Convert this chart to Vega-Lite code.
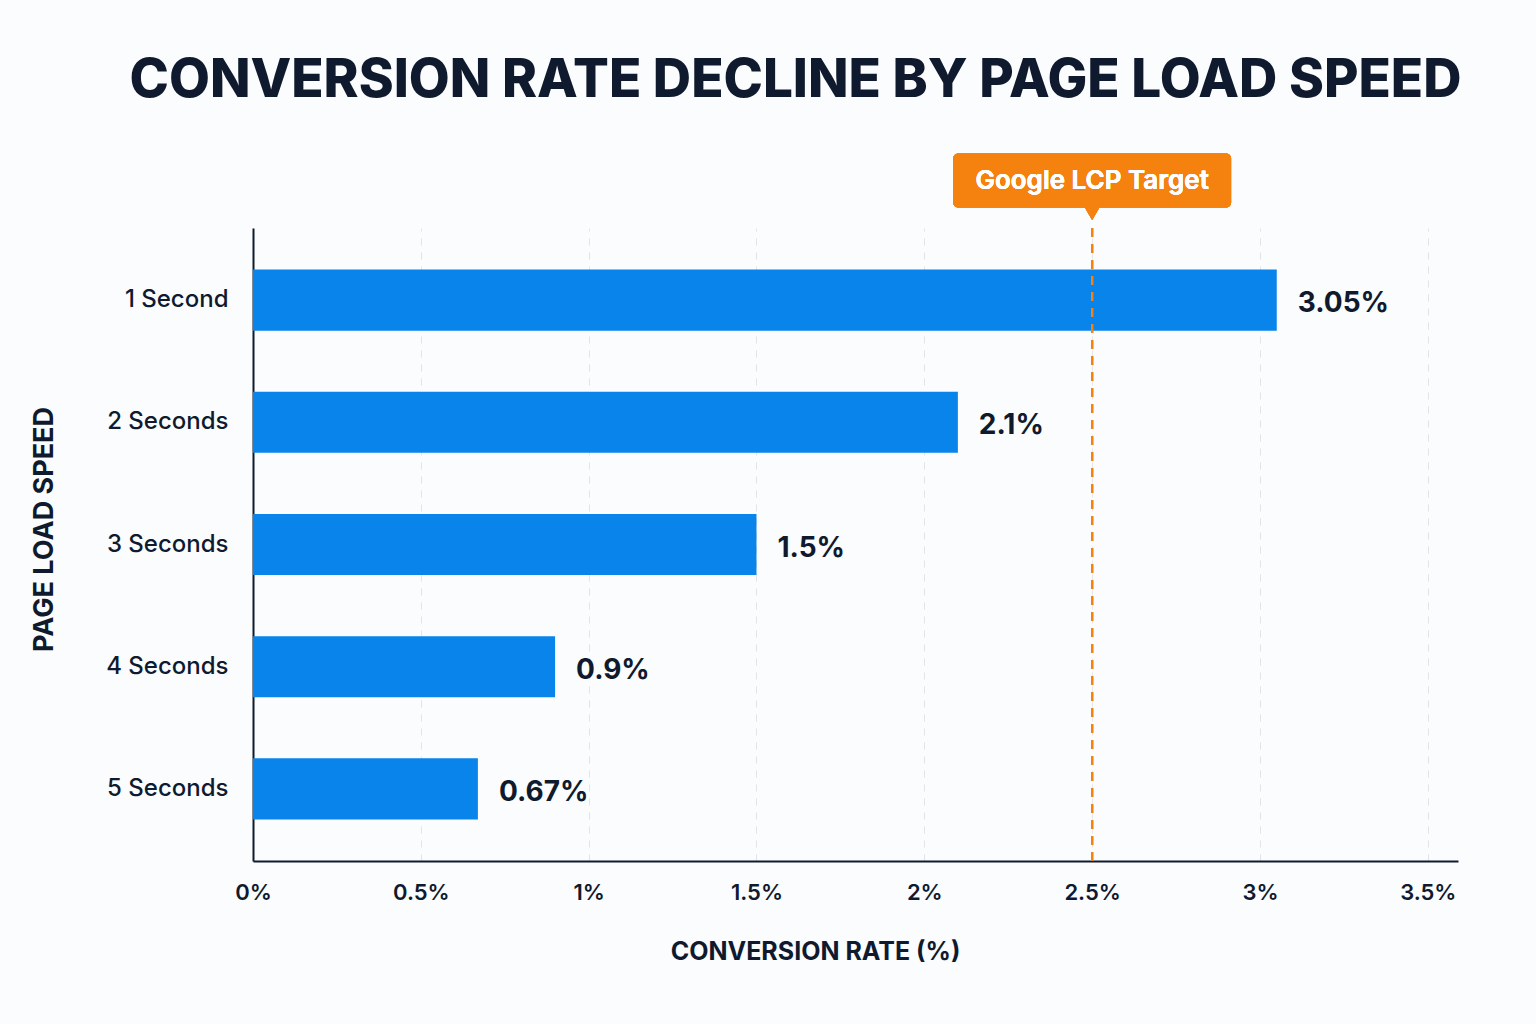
{
  "$schema": "https://vega.github.io/schema/vega-lite/v6.json",
  "autosize": {"type": "none"},
  "width": 1205,
  "height": 633,
  "padding": {"left": 253, "top": 228, "right": 78, "bottom": 163},
  "background": "#fbfcfd",
  "title": {
    "text": "CONVERSION RATE DECLINE BY PAGE LOAD SPEED",
    "font": "Inter",
    "fontSize": 53,
    "fontWeight": 800,
    "color": "#0f1a2e",
    "anchor": "middle",
    "frame": "group",
    "dx": -60,
    "offset": 46
  },
  "config": {
    "view": {"stroke": null},
    "font": "Inter"
  },
  "data": {
    "values": [
      {"speed": "1 Second", "rate": 3.05},
      {"speed": "2 Seconds", "rate": 2.1},
      {"speed": "3 Seconds", "rate": 1.5},
      {"speed": "4 Seconds", "rate": 0.9},
      {"speed": "5 Seconds", "rate": 0.67}
    ]
  },
  "layer": [
    {
      "mark": {"type": "bar", "color": "#0884ea"},
      "encoding": {
        "y": {
          "field": "speed",
          "type": "nominal",
          "sort": null,
          "scale": {"paddingInner": 0.5, "paddingOuter": 0.34},
          "axis": {
            "title": "PAGE LOAD SPEED",
            "titleFont": "Inter",
            "titleFontSize": 27,
            "titleFontWeight": 700,
            "titleColor": "#0f1a2e",
            "titlePadding": 47,
            "titleY": 301,
            "labelFont": "Inter",
            "labelFontSize": 24,
            "labelFontWeight": 500,
            "labelColor": "#0f1a2e",
            "labelPadding": 25,
            "ticks": false,
            "domainColor": "#0f1a2e",
            "domainWidth": 2
          }
        },
        "x": {
          "field": "rate",
          "type": "quantitative",
          "scale": {"domain": [0, 3.59], "nice": false},
          "axis": {
            "title": "CONVERSION RATE (%)",
            "titleFont": "Inter",
            "titleFontSize": 25,
            "titleFontWeight": 700,
            "titleColor": "#0f1a2e",
            "titlePadding": 36,
            "titleX": 562,
            "titleAlign": "center",
            "values": [0, 0.5, 1, 1.5, 2, 2.5, 3, 3.5],
            "labelExpr": "datum.value + '%'",
            "labelFlush": false,
            "labelFont": "Inter",
            "labelFontSize": 22,
            "labelFontWeight": 600,
            "labelColor": "#0f1a2e",
            "labelPadding": 21,
            "ticks": false,
            "domainColor": "#0f1a2e",
            "domainWidth": 2,
            "grid": true,
            "gridColor": "#e2e4e8",
            "gridDash": [7, 7],
            "gridWidth": 1
          }
        }
      }
    },
    {
      "transform": [{"calculate": "datum.rate + '%'", "as": "label"}],
      "mark": {
        "type": "text",
        "align": "left",
        "baseline": "middle",
        "dx": 21,
        "dy": 4,
        "font": "Inter",
        "fontSize": 28,
        "fontWeight": 700,
        "color": "#0f1a2e"
      },
      "encoding": {
        "y": {"field": "speed", "type": "nominal", "sort": null},
        "x": {"field": "rate", "type": "quantitative"},
        "text": {"field": "label"}
      }
    },
    {
      "mark": {"type": "rule", "color": "#f5820f", "strokeWidth": 2, "strokeDash": [9, 7]},
      "encoding": {"x": {"datum": 2.5}}
    },
    {
      "mark": {"type": "bar", "color": "#f5820f", "cornerRadius": 5, "height": 54},
      "encoding": {
        "x": {"datum": 2.086},
        "x2": {"datum": 2.914},
        "y": {"datum": "1 Second"},
        "yOffset": {"value": -89}
      }
    },
    {
      "mark": {"type": "point", "shape": "triangle-down", "filled": true, "color": "#f5820f", "opacity": 1, "size": 220},
      "encoding": {
        "x": {"datum": 2.5},
        "y": {"datum": "1 Second"},
        "yOffset": {"value": -56}
      }
    },
    {
      "mark": {
        "type": "text",
        "align": "center",
        "baseline": "middle",
        "font": "Inter",
        "fontSize": 26,
        "fontWeight": 600,
        "color": "#ffffff"
      },
      "encoding": {
        "x": {"datum": 2.5},
        "y": {"datum": "1 Second"},
        "yOffset": {"value": -89},
        "text": {"value": "Google LCP Target"}
      }
    }
  ]
}
